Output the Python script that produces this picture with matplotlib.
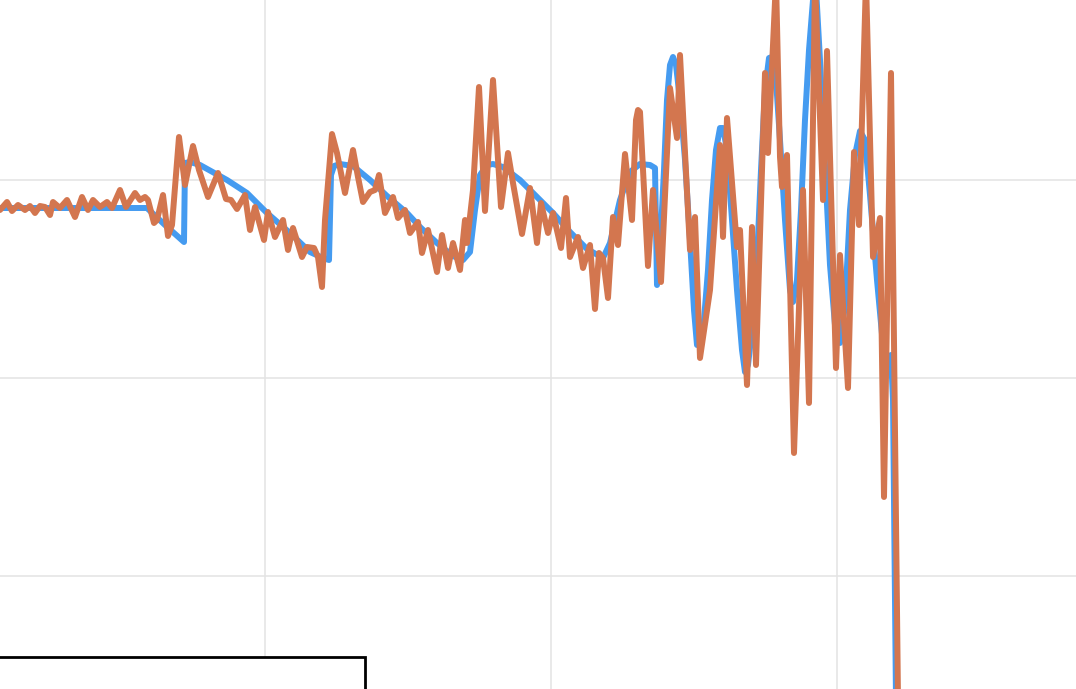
import matplotlib
matplotlib.use('Agg')
import matplotlib.pyplot as plt
import numpy as np
from matplotlib.patches import Rectangle

model_t = [0, 147, 165, 184, 185, 190, 200, 227, 247, 267, 290, 310, 323, 329, 331, 334, 340,
           353, 370, 387, 407, 420, 437, 453, 463, 470, 475, 480, 487, 493, 503, 520, 537, 553,
           570, 587, 603, 610, 620, 630, 640, 650, 655, 657, 660, 664, 667, 670, 673, 676, 680,
           685, 690, 694, 697, 700, 704, 708, 712, 716, 720, 723, 727, 732, 737, 742, 745, 748,
           752, 757, 761, 765, 769, 772, 776, 780, 785, 790, 793, 797, 801, 805, 809, 813, 816,
           820, 825, 830, 835, 840, 845, 850, 855, 860, 865, 870, 877, 883, 888, 891, 893, 896]
model_v = [170, 170, 153, 136, 215, 216, 213, 198, 185, 165, 145, 126, 120, 118, 203, 212, 214,
           212, 198, 182, 165, 151, 135, 122, 118, 126, 168, 203, 213, 214, 211, 198, 181, 165,
           146, 129, 120, 135, 178, 206, 214, 213, 210, 93, 128, 208, 278, 313, 321, 313, 278,
           218, 138, 68, 33, 33, 58, 108, 178, 228, 250, 250, 228, 158, 88, 28, 6, 13,
           48, 118, 208, 288, 320, 321, 298, 238, 158, 88, 76, 98, 168, 258, 328, 378, 390,
           318, 213, 113, 53, 35, 73, 168, 223, 247, 238, 183, 98, 33, 8, 23, -22, -322]

signal_t = [0, 7, 12, 18, 25, 30, 35, 40, 45, 50, 53, 60, 67, 75, 82, 88, 93, 100, 107, 112,
            120, 126, 135, 140, 145, 148, 154, 157, 163, 168, 172, 179, 185, 193, 199, 208, 218,
            226, 231, 237, 245, 250, 255, 264, 268, 275, 283, 288, 293, 302, 307, 314, 318, 322,
            325, 332, 337, 345, 353, 358, 363, 370, 375, 379, 385, 393, 398, 405, 410, 418, 422,
            428, 437, 442, 448, 453, 460, 465, 467, 473, 479, 485, 493, 501, 508, 513, 522, 530,
            537, 541, 548, 553, 561, 566, 570, 578, 583, 590, 595, 599, 603, 608, 613, 618, 625,
            632, 636, 638, 640, 648, 653, 661, 670, 677, 680, 690, 695, 700, 710, 720, 723, 727,
            737, 740, 747, 752, 756, 765, 768, 776, 780, 782, 787, 794, 803, 809, 815, 823, 827,
            836, 840, 848, 854, 859, 866, 873, 880, 884, 891, 898]
signal_v = [168, 176, 167, 173, 168, 172, 165, 172, 171, 163, 176, 170, 178, 161, 181, 168, 178,
            171, 176, 170, 188, 171, 185, 178, 181, 178, 155, 158, 183, 142, 153, 241, 193, 232,
            208, 181, 205, 179, 178, 169, 183, 148, 171, 138, 166, 141, 158, 128, 150, 121, 131,
            130, 121, 91, 158, 244, 225, 185, 228, 201, 176, 186, 188, 203, 165, 181, 160, 168,
            145, 156, 125, 148, 106, 143, 110, 135, 108, 158, 135, 188, 291, 167, 298, 171, 225,
            195, 144, 190, 135, 175, 145, 165, 130, 180, 121, 141, 110, 133, 69, 125, 120, 80,
            161, 133, 224, 158, 258, 268, 266, 112, 188, 96, 290, 240, 323, 128, 161, 20, 88,
            233, 141, 260, 131, 148, -7, 151, 13, 305, 225, 398, 221, 191, 223, -75, 188, -25,
            398, 178, 327, 10, 123, -10, 226, 153, 398, 121, 160, -119, 305, -322]

grid_t = [265, 551, 837]
grid_v = [198, 0, -198]

fig = plt.figure(figsize=(10.76, 6.89), dpi=100)
ax = fig.add_axes([0, 0, 1, 1])
ax.set_xlim(0, 1076)
ax.set_ylim(-311, 378)
for s in ax.spines.values():
    s.set_visible(False)
ax.set_xticks(grid_t)
ax.set_yticks(grid_v)
ax.tick_params(length=0, labelbottom=False, labelleft=False)
ax.grid(True, color='#e3e3e3', linewidth=1.1)
ax.set_axisbelow(True)

ax.plot(model_t, model_v, color='#459BF0', linewidth=4.3,
        solid_joinstyle='round', solid_capstyle='round')
ax.plot(signal_t, signal_v, color='#D3764F', linewidth=4.3,
        solid_joinstyle='round', solid_capstyle='round')

# legend frame, only its top-right corner is inside the view
ax.add_patch(Rectangle((-0.01, -0.1), 365 / 1076 + 0.01, 0.1 + 32 / 689,
                       transform=ax.transAxes, facecolor='white', edgecolor='black',
                       linewidth=2.0, zorder=5))

fig.savefig('out.png', dpi=100)
